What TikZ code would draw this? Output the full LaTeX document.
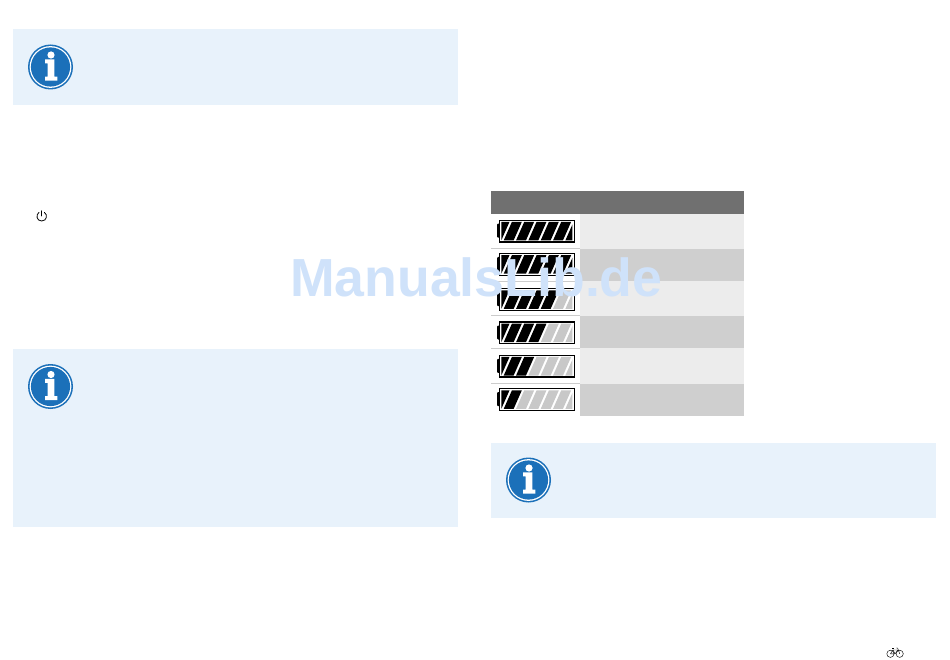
\documentclass[tikz,border=0pt]{standalone}
\usepackage{fontspec}
\setmainfont{Liberation Sans}
\definecolor{boxblue}{HTML}{E8F2FB}
\definecolor{iconblue}{HTML}{1B70B9}
\definecolor{headgray}{HTML}{707070}
\definecolor{rowlight}{HTML}{ECECEC}
\definecolor{rowdark}{HTML}{CFCFCF}
\definecolor{sepgray}{HTML}{CCCCCC}
\definecolor{stripegray}{HTML}{C8C8C8}
\definecolor{wmblue}{HTML}{CFE2FA}
\tikzset{
  infobox/.style={fill=boxblue,draw=none},
  rowa/.style={fill=rowlight,draw=none},
  rowb/.style={fill=rowdark,draw=none},
  sepline/.style={draw=sepgray,line width=0.8pt},
  battframe/.style={draw=black,line width=1.25pt,fill=white},
  infoicon/.pic={
    \fill[iconblue] (0,0) circle[radius=22.5];
    \fill[white] (0,0) circle[radius=20.9];
    \fill[iconblue] (0,0) circle[radius=19.6];
    \fill[white] (0.5,-12) circle[radius=3.6];
    \fill[white] (-5.5,-7.7) -- (3.8,-7.7) -- (3.8,9.7) -- (6.8,9.7) -- (6.8,13.7)
      -- (-5.5,13.7) -- (-5.5,9.7) -- (-2.8,9.7) -- (-2.8,-3.7) -- (-5.5,-3.7) -- cycle;
  }
}
% \batterydraw{y top}{number of black stripes}
\newcommand{\batterydraw}[2]{%
  \begin{scope}[shift={(499.5,#1)}]
    \fill[black,rounded corners=0.8pt] (-2.3,3.5) rectangle (0.2,17.5);
    \draw[battframe] (0,0) rectangle (75.3,21.8);
    \begin{scope}
      \clip (1.9,1.6) rectangle (72.9,20.2);
      \foreach \n in {0,...,6}{
        \pgfmathsetmacro{\xo}{-8.1+12.33*\n}
        \pgfmathtruncatemacro{\isblack}{\n<=#2 ? 1 : 0}
        \ifnum\isblack=1 \def\stc{black}\else\def\stc{stripegray}\fi
        \fill[\stc] (\xo+8.2,1.6) -- (\xo+18.1,1.6) -- (\xo+9.9,20.2) -- (\xo+0,20.2) -- cycle;
      }
    \end{scope}
  \end{scope}%
}
\begin{document}
\begin{tikzpicture}[x=1pt,y=-1pt]
\useasboundingbox (0,0) rectangle (950,660);
\fill[white] (0,0) rectangle (950,660);
% info boxes
\path[infobox] (13,29) rectangle (458,105);
\path[infobox] (13,349) rectangle (458,527);
\path[infobox] (491,443) rectangle (936,518);
\pic at (50.5,67) {infoicon};
\pic at (50.5,386.5) {infoicon};
\pic at (528.5,480) {infoicon};
% power symbol
\draw[black,line width=0.8pt,line cap=round] (39,212.4) .. controls (35.6,214.6) and (36.4,221) .. (41.7,221) .. controls (47,221) and (47.8,214.6) .. (44.4,212.4);
\draw[black,line width=0.8pt,line cap=round] (41.7,210.8) -- (41.7,216);
% table
\fill[headgray] (491,191) rectangle (744,214);
\path[rowa] (580,214) rectangle (744,249);
\path[rowb] (580,249) rectangle (744,281);
\path[rowa] (580,281) rectangle (744,316);
\path[rowb] (580,316) rectangle (744,348);
\path[rowa] (580,348) rectangle (744,383.5);
\path[rowb] (580,383.5) rectangle (744,416);
\foreach \yy in {248.5,281.5,315.5,348.5,383.5}{
  \draw[sepline] (491,\yy) -- (580,\yy);
}
\batterydraw{220.2}{6}
\batterydraw{253.5}{6}
\batterydraw{288.7}{4}
\batterydraw{322}{3}
\batterydraw{355.3}{2}
\batterydraw{388.7}{1}
% bicycle
\begin{scope}[black,line width=0.45pt]
  \draw (890.4,653.8) circle[radius=3.6];
  \draw (899.7,653.8) circle[radius=3.6];
  \draw (890.4,653.8) -- (893,650) -- (898,650) -- (895,653.8) -- (890.4,653.8);
  \draw (893,650) -- (895,653.8);
  \draw (899.7,653.8) -- (897.6,648) -- (896,648);
  \draw (892,648.6) -- (894.2,648.6);
\end{scope}
% watermark
\node[anchor=base west,inner sep=0pt,text=wmblue,font=\fontsize{53.6}{54}\selectfont\bfseries] (wm) at (290,297) {ManualsLib.de};
\end{tikzpicture}
\end{document}
